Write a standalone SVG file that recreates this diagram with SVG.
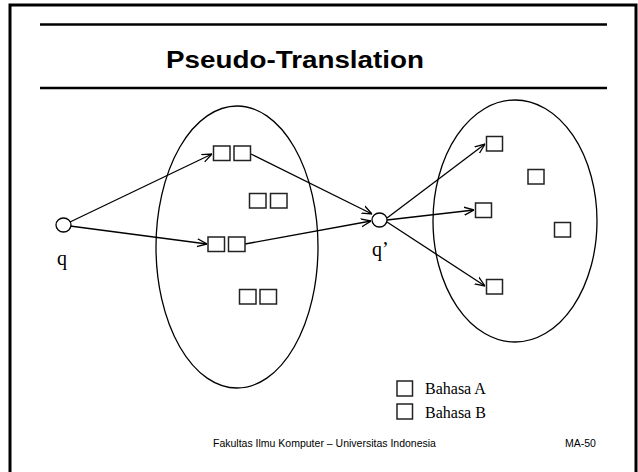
<svg xmlns="http://www.w3.org/2000/svg" width="638" height="472" viewBox="0 0 638 472">
<style>
.frame{fill:none;stroke:#000;stroke-width:3}
.rule{stroke:#000;stroke-width:2.5}
.ell{fill:none;stroke:#000;stroke-width:1.3}
.box{fill:#fff;stroke:#222;stroke-width:1.5}
.node{fill:#fff;stroke:#000;stroke-width:1.3}
.edge{fill:none;stroke:#000;stroke-width:1.3;marker-end:url(#arr)}
.lbl{font-family:"Liberation Serif","Times New Roman",serif;font-size:20px;fill:#000}
.leg{font-family:"Liberation Serif","Times New Roman",serif;font-size:16px;fill:#000}
.foot{font-family:"Liberation Sans",Arial,sans-serif;font-size:10.5px;fill:#000}
.title{font-family:"Liberation Sans",Arial,sans-serif;font-size:24px;font-weight:bold;fill:#000}
</style>
<defs>
<marker id="arr" viewBox="0 0 10 10" refX="10" refY="5" markerWidth="10" markerHeight="10" markerUnits="userSpaceOnUse" orient="auto">
<path d="M0,1 L10,5 L0,9" fill="none" stroke="#000" stroke-width="1.3"/>
</marker>
</defs>
<rect width="638" height="472" fill="#fff"/>
<path class="frame" d="M10,472 V5 H636 V472"/>
<line class="rule" x1="40" y1="24.5" x2="607" y2="24.5"/>
<line class="rule" x1="40" y1="88" x2="607" y2="88"/>
<text class="title" x="166" y="68" textLength="258" lengthAdjust="spacingAndGlyphs">Pseudo-Translation</text>

<g id="set-left"><ellipse class="ell" cx="237" cy="247" rx="81" ry="141"/></g>
<g id="set-right"><ellipse class="ell" cx="515" cy="221" rx="82" ry="121"/></g>

<g id="connectors">
<line class="edge" x1="70" y1="222" x2="212" y2="154"/>
<line class="edge" x1="70" y1="226" x2="207" y2="244"/>
<line class="edge" x1="251" y1="154" x2="372" y2="214"/>
<line class="edge" x1="245" y1="244" x2="371" y2="221"/>
<line class="edge" x1="387" y1="218" x2="485" y2="144"/>
<line class="edge" x1="387" y1="220" x2="474" y2="210"/>
<line class="edge" x1="387" y1="222" x2="485" y2="286"/>
</g>

<g id="q"><ellipse class="node" cx="63.5" cy="225" rx="7.5" ry="7"/><text class="lbl" x="57" y="265">q</text></g>
<g id="q-prime"><ellipse class="node" cx="379.5" cy="220" rx="7.5" ry="7"/><text class="lbl" x="372" y="256">q’</text></g>

<g id="pair1"><rect class="box" x="213.5" y="146" width="16.5" height="14.5"/><rect class="box" x="234" y="146" width="16.5" height="14.5"/></g>
<g id="pair2"><rect class="box" x="249.5" y="193.5" width="16.5" height="14.5"/><rect class="box" x="270.5" y="193.5" width="16.5" height="14.5"/></g>
<g id="pair3"><rect class="box" x="208" y="237" width="16.5" height="14.5"/><rect class="box" x="228.5" y="237" width="16.5" height="14.5"/></g>
<g id="pair4"><rect class="box" x="239.5" y="289.5" width="16.5" height="14.5"/><rect class="box" x="260" y="289.5" width="16.5" height="14.5"/></g>

<g id="b1"><rect class="box" x="486.5" y="136.5" width="16" height="14.5"/></g>
<g id="b2"><rect class="box" x="528" y="169.5" width="16" height="14.5"/></g>
<g id="b3"><rect class="box" x="475.5" y="203" width="16" height="14.5"/></g>
<g id="b4"><rect class="box" x="554.5" y="222.5" width="16" height="14.5"/></g>
<g id="b5"><rect class="box" x="486.5" y="279.5" width="16" height="14.5"/></g>

<g id="legend">
<rect class="box" x="397" y="381" width="15.5" height="15"/>
<text class="leg" x="425" y="394">Bahasa A</text>
<rect class="box" x="397" y="404" width="15.5" height="15"/>
<text class="leg" x="425" y="417.5">Bahasa B</text>
</g>

<text class="foot" x="213" y="447">Fakultas Ilmu Komputer – Universitas Indonesia</text>
<text class="foot" x="565" y="447">MA-50</text>
</svg>
